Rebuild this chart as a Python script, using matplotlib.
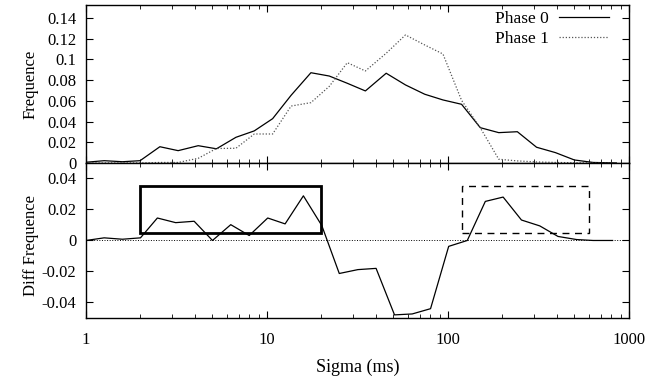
import matplotlib
matplotlib.use("Agg")
import matplotlib.pyplot as plt
from matplotlib.patches import Rectangle

plt.rcParams['font.family'] = ['Liberation Serif', 'DejaVu Serif']
plt.rcParams['font.size'] = 12

# === Données ===
sigma_top = [1.0, 1.26, 1.59, 1.99, 2.56, 3.23, 4.17, 5.26, 6.74, 8.51, 10.75,
             13.6, 17.5, 22.1, 27.8, 35.0, 45.6, 58.3, 74.5, 93.9, 119, 151,
             191, 242, 309, 393, 500, 635, 853]
phase0 = [0.0007, 0.0022, 0.0012, 0.0022, 0.0157, 0.0119, 0.0167, 0.0137,
          0.0248, 0.0310, 0.0428, 0.0654, 0.0872, 0.0840, 0.0770, 0.0696,
          0.0867, 0.0754, 0.0664, 0.0609, 0.0567, 0.0341, 0.0293, 0.0302,
          0.0152, 0.0100, 0.0029, 0.0005, 0.0]
phase1 = [0.0, 0.0, 0.0, 0.0, 0.0005, 0.0005, 0.0045, 0.0140, 0.0142,
          0.0280, 0.0280, 0.0550, 0.0583, 0.0740, 0.0969, 0.0889, 0.1060,
          0.1237, 0.1140, 0.1053, 0.0605, 0.0340, 0.0036, 0.0020, 0.0010,
          0.0005, 0.0002, 0.0, 0.0]

sigma_diff = [1.0, 1.26, 1.59, 2.0, 2.48, 3.13, 3.96, 5.0, 6.31, 7.98, 10.1,
              12.6, 15.9, 20.1, 25.1, 31.8, 40.1, 50.7, 63.5, 80.2, 101, 128,
              161, 202, 255, 322, 406, 514, 635, 813]
diff = [0.0, 0.0017, 0.0008, 0.0017, 0.0145, 0.0115, 0.0124, 0.0, 0.0102,
        0.0032, 0.0145, 0.0107, 0.0288, 0.0096, -0.0213, -0.0188, -0.0180,
        -0.0480, -0.0474, -0.0440, -0.0038, 0.0, 0.0252, 0.0280, 0.0132,
        0.0094, 0.0026, 0.0006, 0.0, 0.0]

yticks_top = [0, 0.02, 0.04, 0.06, 0.08, 0.1, 0.12, 0.14]
yticks_bot = [-0.04, -0.02, 0, 0.02, 0.04]
xticks = [1, 10, 100, 1000]

# === Figure ===
fig = plt.figure(figsize=(6.53, 3.79), dpi=100)
ax1 = fig.add_axes([0.1317, 0.570, 0.8313, 0.417])
ax2 = fig.add_axes([0.1317, 0.161, 0.8313, 0.409], sharex=ax1)

ax1.plot(sigma_top, phase0, color='black', lw=0.9, label='Phase 0')
ax1.plot(sigma_top, phase1, color='#555555', lw=0.9, ls=(0, (1, 1.5)),
         label='Phase 1')
ax1.set_ylim(0, 0.1527)
ax1.set_yticks(yticks_top)
ax1.set_yticklabels([f"{v:g}" for v in yticks_top])
ax1.set_ylabel("Frequence", fontsize=12)
ax1.tick_params(labelbottom=False)
ax1.legend(loc='upper right', frameon=False, markerfirst=False,
           handlelength=2.9, handletextpad=0.6, borderaxespad=0.15,
           borderpad=0.2, labelspacing=0.2, fontsize=12.5,
           bbox_to_anchor=(0.975, 1.0))

ax2.plot(sigma_diff, diff, color='black', lw=0.9)
ax2.axhline(0, color='black', lw=0.7, ls=':')
ax2.add_patch(Rectangle((2, 0.005), 18, 0.03, fill=False,
                        edgecolor='black', lw=2.0))
ax2.add_patch(Rectangle((120, 0.005), 480, 0.03, fill=False,
                        edgecolor='black', lw=1.0, ls=(0, (5, 4))))
ax2.set_ylim(-0.05, 0.05)
ax2.set_yticks(yticks_bot)
ax2.set_yticklabels([f"{v:g}" for v in yticks_bot])
ax2.set_ylabel("Diff Frequence", fontsize=12)
ax2.set_xscale('log')
ax2.set_xlim(1, 1000)
ax2.set_xticks(xticks)
ax2.set_xticklabels([str(v) for v in xticks])
ax2.set_xlabel("Sigma (ms)", fontsize=13, labelpad=8)

for ax in (ax1, ax2):
    ax.tick_params(which='both', direction='in', top=True, right=True)
    ax.tick_params(which='major', length=5, width=0.8, pad=7)
    ax.tick_params(which='minor', length=3, width=0.6)
    for s in ax.spines.values():
        s.set_linewidth(1.0)
ax1.yaxis.set_label_coords(-0.087, 0.5)
ax2.yaxis.set_label_coords(-0.087, 0.47)
ax2.tick_params(axis='x', which='major', pad=10)

plt.savefig("out.png", dpi=100)
